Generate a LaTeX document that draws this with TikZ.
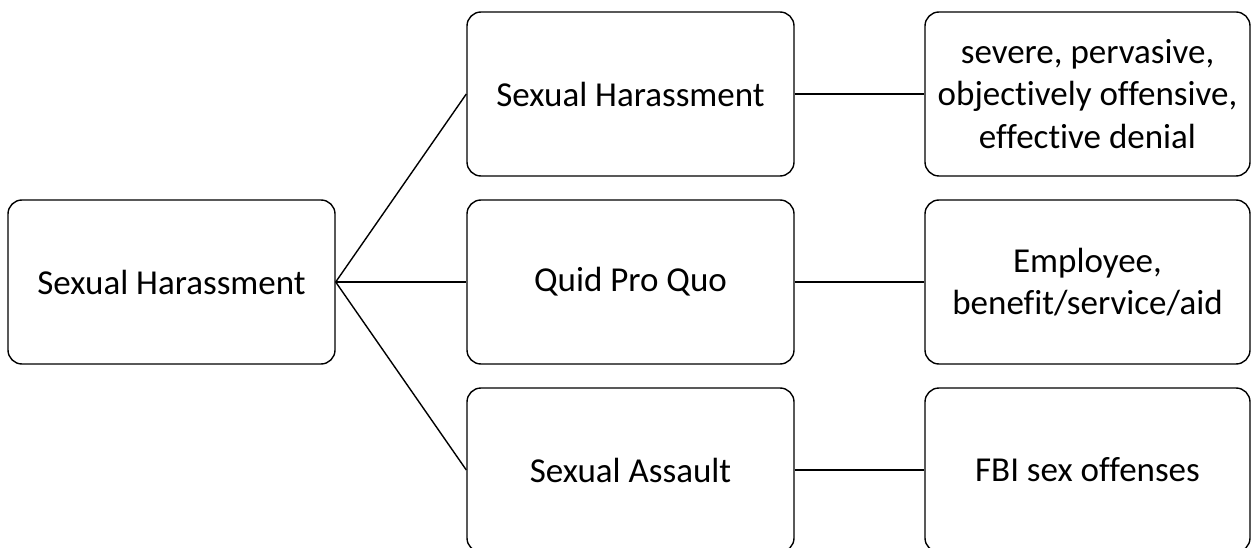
\documentclass[tikz,border=0pt]{standalone}
\usepackage{fontspec}
\setmainfont[Ligatures=NoCommon]{Carlito}
\begin{document}
\begin{tikzpicture}[x=1pt,y=-1pt,
  box/.style={draw=black, line width=1.4pt, rounded corners=14pt, fill=white,
    minimum width=327pt, minimum height=164pt, align=center, inner sep=0pt,
    font=\fontsize{35}{42.5}\selectfont},
  link/.style={draw=black, line width=1.4pt}]
\useasboundingbox (0,0) rectangle (1253,548);
\node[box] (root) at (171.5,282) {Sexual Harassment};
\node[box] (m1) at (630.5,94) {Sexual Harassment};
\node[box] (m2) at (630.5,282) {Quid Pro Quo};
\node[box] (m3) at (630.5,470) {Sexual Assault};
\node[box, minimum width=325pt] (r1) at (1087.5,94) {severe, pervasive,\\objectively offensive,\\effective denial};
\node[box, minimum width=325pt] (r2) at (1087.5,282) {Employee,\\benefit/service/aid};
\node[box, minimum width=325pt] (r3) at (1087.5,470) {FBI sex offenses};
\draw[link] (root.east) -- (m1.west);
\draw[link] (root.east) -- (m2.west);
\draw[link] (root.east) -- (m3.west);
\draw[link] (m1.east) -- (r1.west);
\draw[link] (m2.east) -- (r2.west);
\draw[link] (m3.east) -- (r3.west);
\end{tikzpicture}
\end{document}
